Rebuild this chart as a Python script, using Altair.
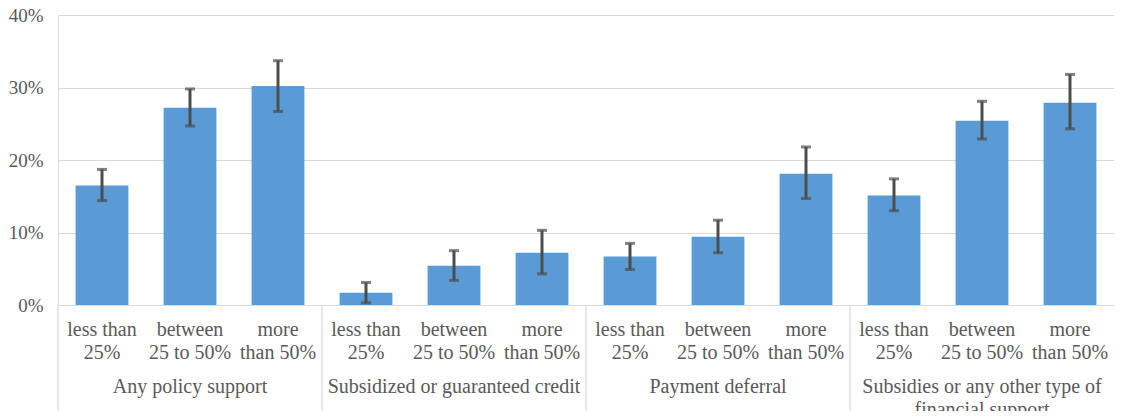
import altair as alt
import pandas as pd

groups = ["Any policy support", "Subsidized or guaranteed credit", "Payment deferral",
          "Subsidies or any other type of\nfinancial support"]
cats = ["less than\n25%", "between\n25 to 50%", "more\nthan 50%"]
values = [16.5, 27.2, 30.2, 1.7, 5.4, 7.2, 6.7, 9.4, 18.1, 15.1, 25.4, 27.9]
lower = [14.4, 24.7, 26.7, 0.3, 3.4, 4.3, 4.9, 7.2, 14.7, 13.0, 22.9, 24.3]
upper = [18.7, 29.8, 33.7, 3.1, 7.5, 10.3, 8.5, 11.7, 21.8, 17.4, 28.1, 31.8]

rows = []
for gi, g in enumerate(groups):
    for ci, c in enumerate(cats):
        k = gi * 3 + ci
        rows.append({
            "key": f"{gi}-{ci}", "group": g, "cat": c, "ci": ci,
            "value": values[k] / 100, "lo": lower[k] / 100, "hi": upper[k] / 100,
        })
df = pd.DataFrame(rows)
order = list(df["key"])

FONT = "Liberation Serif"
TXT = "#595959"
TOP = 7
H = 290
W = 1056
PADL = 50
SVGH = 403

xs = alt.Scale(domain=order, paddingInner=0, paddingOuter=0)
x = alt.X("key:N", scale=xs, axis=None, sort=order)
ys = alt.Scale(domain=[0, 0.4])

base = alt.Chart(df)

bars = base.mark_bar(color="#5b9bd5", width=alt.RelativeBandSize(0.6)).encode(
    x=x,
    y=alt.Y("value:Q", scale=ys, title=None,
            axis=alt.Axis(values=[0, 0.1, 0.2, 0.3, 0.4], format=".0%",
                          ticks=False, tickSize=0, labelPadding=15,
                          labelFont=FONT, labelFontSize=19, labelColor=TXT,
                          gridColor="#d9d9d9", domainColor="#d9d9d9")),
)

err = base.mark_rule(color="#4d4d4d", strokeWidth=3).encode(
    x=x, y=alt.Y("lo:Q", scale=ys), y2="hi:Q")
cap_lo = base.mark_tick(color="#4d4d4d", size=10, thickness=3).encode(
    x=x, y=alt.Y("lo:Q", scale=ys))
cap_hi = base.mark_tick(color="#4d4d4d", size=10, thickness=3).encode(
    x=x, y=alt.Y("hi:Q", scale=ys))

seps = base.transform_filter(alt.datum.ci == 0).mark_rule(
    color="#d0d0d0", strokeWidth=1).encode(
    x=alt.X("key:N", scale=xs, axis=None, sort=order, bandPosition=0),
    y=alt.value(H), y2=alt.value(H + 130))

cat_text = base.mark_text(font=FONT, fontSize=20, color=TXT, lineBreak="\n",
                          lineHeight=22.5, baseline="line-top", align="center").encode(
    x=x, y=alt.value(304), text="cat:N")

grp_text = base.transform_filter(alt.datum.ci == 1).mark_text(
    font=FONT, fontSize=20, color=TXT, lineBreak="\n", lineHeight=22.5,
    baseline="line-top", align="center").encode(
    x=x, y=alt.value(361), text="group:N")

chart = alt.layer(bars, err, cap_lo, cap_hi, seps, cat_text, grp_text).properties(
    width=W, height=H,
    autosize=alt.AutoSizeParams(type="none"),
    padding={"left": PADL, "top": TOP, "right": 0, "bottom": SVGH - TOP - H},
).configure_view(stroke=None)

chart.save("out.html", embed_options={"renderer": "svg", "actions": False})
